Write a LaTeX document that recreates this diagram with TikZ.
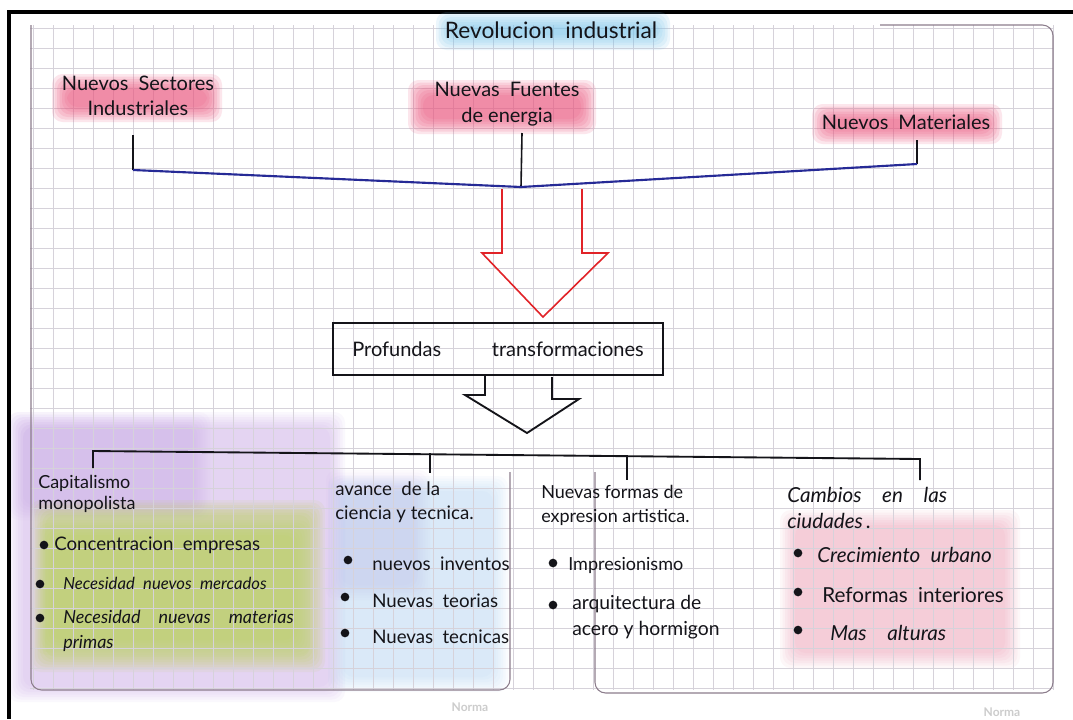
\documentclass[tikz,border=0pt]{standalone}
\usepackage{fontspec}
\setmainfont{Lato}
\usetikzlibrary{calc}

\definecolor{gridc}{RGB}{214,210,218}
\definecolor{pagec}{RGB}{140,125,140}
\definecolor{hlpink}{RGB}{236,88,128}
\definecolor{hlblue}{RGB}{125,198,236}
\definecolor{washgreen}{RGB}{176,208,50}
\definecolor{washlav}{RGB}{190,150,228}
\definecolor{washblue}{RGB}{150,198,240}
\definecolor{washpink}{RGB}{232,110,145}
\definecolor{inkblue}{RGB}{38,42,150}
\definecolor{inkred}{RGB}{225,35,40}
\definecolor{ink}{RGB}{20,20,25}

% soft-edged colour patch: colour, opacity per layer, corners (x1,y1) (x2,y2)
\newcommand\softrect[6]{%
  \foreach \k in {0,1,...,6}{%
    \fill[#1, opacity=#2, rounded corners=8pt]
      ($(#3,#4)+(\k*2.5,\k*2.5)$) rectangle ($(#5,#6)-(\k*2.5,\k*2.5)$);
  }}

\tikzset{
  hand/.style={font=\fontsize{14}{18}\selectfont, text=ink, inner sep=0pt, align=left, anchor=west},
  handc/.style={font=\fontsize{15}{19}\selectfont, text=ink, inner sep=0pt, align=center},
  coltitle/.style={font=\fontsize{14}{18}\selectfont, text=ink, inner sep=0pt, align=left, anchor=west},
  dot/.style={circle, fill=ink, inner sep=0pt, minimum size=6.5pt},
  pen/.style={ink, line width=1.4pt, line join=miter},
  brand/.style={font=\bfseries\fontsize{9}{10}\selectfont, text=gray!40, inner sep=0pt}
}

\begin{document}
\begin{tikzpicture}[x=0.75pt, y=-0.75pt]
\useasboundingbox (0,0) rectangle (1073,719);
\fill[white] (0,0) rectangle (1073,719);

% coloured pencil washes
\softrect{washlav}{0.065}{8}{412}{345}{702}
\softrect{washlav}{0.045}{8}{412}{210}{520}
\softrect{washlav}{0.04}{326}{470}{430}{600}
\softrect{washgreen}{0.075}{30}{500}{325}{672}
\softrect{washgreen}{0.045}{36}{520}{310}{655}
\softrect{washblue}{0.055}{328}{476}{508}{692}
\softrect{washpink}{0.055}{780}{510}{1020}{668}

% grid of the notebook
\foreach \x in {33,53,...,1053} \draw[gridc, line width=0.45pt] (\x,25) -- (\x,690);
\foreach \y in {28,48,...,688} \draw[gridc, line width=0.45pt] (30,\y) -- (1053,\y);

% page outlines
\draw[pagec, line width=0.8pt, rounded corners=8pt] (31,25) -- (31,690) -- (510,690) -- (510,472);
\draw[pagec, line width=0.8pt, rounded corners=8pt] (595,472) -- (595,693) -- (1053,693) -- (1053,25) -- (880,25);

% frame
\draw[black, line width=2.4pt] (1073,12) -- (9,12) -- (9,719);

% highlighter strokes
\softrect{hlblue}{0.14}{436}{12}{670}{50}
\softrect{hlpink}{0.15}{52}{74}{222}{122}
\softrect{hlpink}{0.15}{408}{80}{596}{134}
\softrect{hlpink}{0.15}{812}{104}{1002}{144}

% title and the three sources
\node[handc, font=\fontsize{17}{20}\selectfont] (title) at (551,30) {Revolucion\enspace industrial};
\node[handc] (s1) at (138,96) {Nuevos\enspace Sectores\\Industriales};
\node[handc] (s2) at (507,104) {Nuevas\enspace Fuentes\\de energia};
\node[handc] (s3) at (906,122) {Nuevos\enspace Materiales};

% bracket joining the sources
\coordinate (j) at (521,187);
\coordinate (l1) at (133,170);
\coordinate (l3) at (917,164);
\draw[pen, line width=1.2pt] (133,135) -- (l1);
\draw[pen, line width=1.2pt] (917,140) -- (l3);
\draw[pen, line width=1.2pt] (522,133) -- (j);
\draw[inkblue, line width=1.6pt] (l1) -- (j) -- (l3);

% hollow red arrow
\draw[inkred, line width=1.2pt, line join=miter]
  (502,189) -- (502,253) -- (482,253) -- (543,317) -- (608,253) -- (582,253) -- (582,189);

% box
\node[draw=ink, line width=1.5pt, minimum width=247.5pt, minimum height=39pt,
      font=\fontsize{15}{18}\selectfont, text=ink, inner sep=0pt] (pt) at (498,349)
  {Profundas\hspace{38pt}transformaciones};

% hollow black arrow
\draw[pen] (485,374) -- (485,395) -- (465,395) -- (527,433) -- (579,399) -- (552,399) -- (552,377);

% lower bracket
\coordinate (k1) at (93,451);
\coordinate (k2) at (430,453);
\coordinate (k3) at (627,455);
\coordinate (k4) at (920,459);
\draw[pen] (93,468) -- (k1) -- (k4) -- (920,480);
\draw[pen] (k2) -- (430,473);
\draw[pen] (k3) -- (627,480);

% column 1
\node[coltitle, font=\fontsize{13.5}{16}\selectfont] (c1) at (38,494) {Capitalismo\\monopolista};
\node[dot] (b11) at (44,545) {};
\node[hand, font=\fontsize{14}{18}\selectfont] (t11) at (54,545) {Concentracion\enspace empresas};
\node[dot] (b12) at (40,584) {};
\node[hand, font=\itshape\fontsize{12.5}{16}\selectfont] (t12) at (63,583) {Necesidad\enspace nuevos\enspace mercados};
\node[dot] (b13) at (40,618) {};
\node[hand, font=\itshape\fontsize{13.5}{19}\selectfont] (t13) at (63,631) {Necesidad\quad nuevas\quad materias\\primas};

% column 2
\node[coltitle] (c2) at (335,502) {avance\enspace de la\\ciencia y tecnica.};
\node[dot] (b21) at (348,560) {};
\node[hand] (t21) at (372,564) {nuevos\enspace inventos};
\node[dot] (b22) at (345,597) {};
\node[hand] (t22) at (372,601) {Nuevas\enspace teorias};
\node[dot] (b23) at (345,633) {};
\node[hand] (t23) at (372,637) {Nuevas\enspace tecnicas};

% column 3
\node[coltitle, font=\fontsize{13.5}{18}\selectfont] (c3) at (541,505) {Nuevas formas de\\expresion artistica.};
\node[dot] (b31) at (553,563) {};
\node[hand, font=\fontsize{13.5}{18}\selectfont] (t31) at (568,565) {Impresionismo};
\node[dot] (b32) at (553,605) {};
\node[hand, font=\fontsize{14.5}{19}\selectfont] (t32) at (572,617) {arquitectura de\\acero y hormigon};

% column 4
\node[coltitle, font=\itshape\fontsize{15.5}{19}\selectfont] (c4) at (787,508) {Cambios\quad en\quad las\\ciudades\,.};
\node[dot] (b41) at (798,553) {};
\node[hand, font=\itshape\fontsize{15.5}{18}\selectfont] (t41) at (817,555) {Crecimiento\enspace urbano};
\node[dot] (b42) at (798,592) {};
\node[hand, font=\fontsize{15.5}{18}\selectfont] (t42) at (822,595) {Reformas\enspace interiores};
\node[dot] (b43) at (798,630) {};
\node[hand, font=\itshape\fontsize{15.5}{18}\selectfont] (t43) at (830,633) {Mas\quad alturas};

% notebook brand
\node[brand] (n1) at (470,707) {Norma};
\node[brand] (n2) at (1002,712) {Norma};
\end{tikzpicture}
\end{document}
